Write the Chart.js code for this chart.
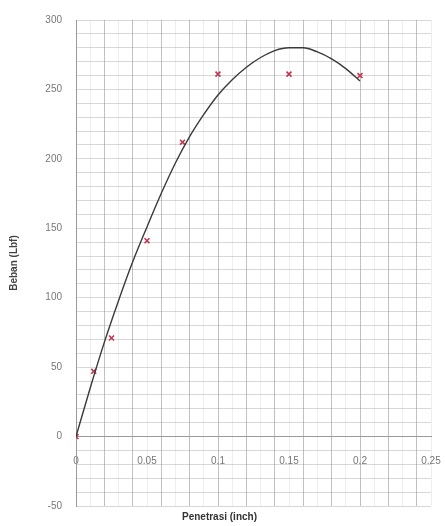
<!DOCTYPE html>
<html>
<head>
<meta charset="utf-8">
<script src="https://cdn.jsdelivr.net/npm/chart.js@4/dist/chart.umd.min.js"></script>
<style>
  html, body { margin: 0; padding: 0; background: #fff; }
  #wrap { width: 445px; height: 526px; }
</style>
</head>
<body>
<div id="wrap"><canvas id="c" width="445" height="526"></canvas></div>
<script>
// Measured penetration (inch) and load (lbf)
const penetrasi = [0, 0.0125, 0.025, 0.05, 0.075, 0.1, 0.15, 0.2];
const beban = [0, 47, 71, 141, 212, 261, 261, 260];

// Trend curve
const trendX = [0, 0.01, 0.02, 0.03, 0.04, 0.05, 0.06, 0.07, 0.08, 0.09, 0.10,
                0.11, 0.12, 0.13, 0.14, 0.15, 0.16, 0.17, 0.18, 0.19, 0.20];
const trendY = [0, 35, 68, 98, 126, 151, 175, 197, 216, 232, 246,
                257, 266, 273, 278, 280, 280, 277, 272, 265, 256];

// Axis labels
const xTickLabels = ['0', '0.05', '0.1', '0.15', '0.2', '0.25'];
const yTickLabels = ['-50', '0', '50', '100', '150', '200', '250', '300'];

const tickFont = { family: 'Liberation Sans, Arial, sans-serif', size: 10 };
const titleFont = { family: 'Liberation Sans, Arial, sans-serif', size: 10, weight: 'bold' };

const points = penetrasi.map((x, i) => ({ x, y: beban[i] }));
const trend = trendX.map((x, i) => ({ x, y: trendY[i] }));

new Chart(document.getElementById('c'), {
  type: 'scatter',
  data: {
    datasets: [
      {
        label: 'Trend',
        data: trend,
        showLine: true,
        borderColor: '#3a3a3a',
        borderWidth: 1.4,
        pointRadius: 0,
        cubicInterpolationMode: 'monotone',
        order: 1
      },
      {
        label: 'Beban',
        data: points,
        showLine: false,
        pointStyle: 'crossRot',
        pointRadius: 3.5,
        borderColor: '#c0364f',
        borderWidth: 1.6,
        backgroundColor: '#c0364f',
        order: 2
      }
    ]
  },
  options: {
    responsive: false,
    animation: false,
    layout: { padding: { top: 14, right: 14, left: 8, bottom: 0 } },
    plugins: {
      legend: { display: false },
      tooltip: { enabled: false },
      title: {
        display: true,
        position: 'bottom',
        text: 'Penetrasi (inch)',
        color: '#333',
        font: titleFont,
        padding: { top: 5, bottom: 0 }
      }
    },
    scales: {
      x: {
        type: 'linear',
        position: { y: 0 },
        min: 0,
        max: 0.25,
        afterFit: s => { s.paddingLeft = 0; s.paddingRight = 0; },
        border: { display: true, color: '#9a9a9a', width: 1 },
        grid: {
          drawTicks: false,
          color: ctx => {
            const n = Math.round(ctx.tick.value * 100);
            return n % 2 === 0 ? 'rgba(120,115,118,0.45)' : 'rgba(150,140,145,0.15)';
          },
          lineWidth: 1
        },
        ticks: {
          stepSize: 0.01,
          autoSkip: false,
          maxRotation: 0,
          padding: 19,
          color: '#777',
          font: tickFont,
          callback: v => {
            const n = Math.round(v * 100);
            return n % 5 === 0 ? xTickLabels[n / 5] : '';
          }
        }
      },
      y: {
        type: 'linear',
        min: -50,
        max: 300,
        afterFit: s => { s.width = 68; },
        border: { display: true, color: '#9a9a9a', width: 1 },
        grid: {
          drawTicks: false,
          color: 'rgba(150,140,145,0.35)',
          lineWidth: 1
        },
        ticks: {
          stepSize: 10,
          autoSkip: false,
          padding: 14,
          color: '#777',
          font: tickFont,
          callback: v => {
            const n = Math.round(v);
            return n % 50 === 0 ? yTickLabels[(n + 50) / 50] : '';
          }
        },
        title: {
          display: true,
          text: 'Beban (Lbf)',
          color: '#444',
          font: titleFont,
          padding: { top: 0, bottom: 4 }
        }
      }
    }
  }
});
</script>
</body>
</html>
